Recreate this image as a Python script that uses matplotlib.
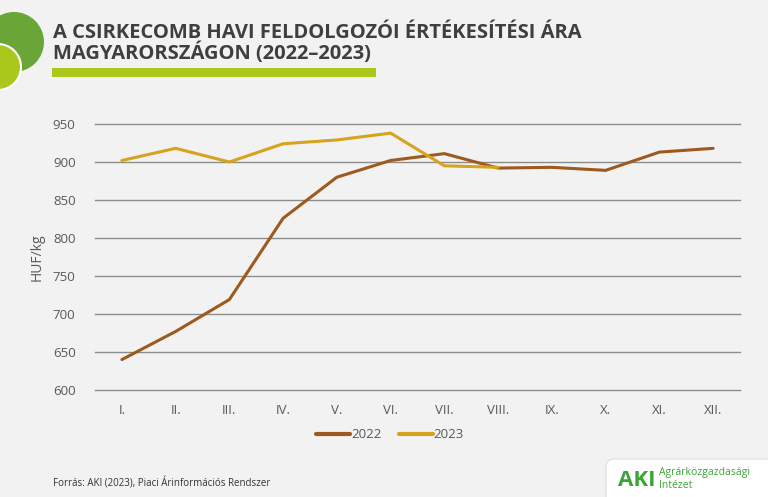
import matplotlib
matplotlib.use("Agg")
import matplotlib.pyplot as plt
from matplotlib.patches import Circle, FancyBboxPatch, Rectangle

months = ["I.", "II.", "III.", "IV.", "V.", "VI.", "VII.", "VIII.", "IX.", "X.", "XI.", "XII."]
price_2022 = [640, 677, 719, 826, 880, 902, 911, 892, 893, 889, 913, 918]
price_2023 = [902, 918, 900, 924, 929, 938, 895, 893]
yticks = [600, 650, 700, 750, 800, 850, 900, 950]

bg = "#f2f2f2"
brown = "#9c5a1f"
gold = "#d6a31d"
text_col = "#595959"

plt.rcParams["font.family"] = ["Open Sans", "DejaVu Sans"]

W, H = 768, 497
fig = plt.figure(figsize=(W / 100, H / 100), dpi=100, facecolor=bg)

# main chart
ax = fig.add_axes([95 / W, 1 - 390 / H, 645 / W, 266 / H])
ax.set_facecolor(bg)
ax.plot(range(len(price_2022)), price_2022, color=brown, lw=2.2, label="2022",
        solid_capstyle="round", zorder=3)
ax.plot(range(len(price_2023)), price_2023, color=gold, lw=2.2, label="2023",
        solid_capstyle="round", zorder=3)
ax.set_xlim(-0.5, 11.5)
ax.set_ylim(600, 950)
ax.set_yticks(yticks)
ax.set_xticks(range(12))
ax.set_xticklabels(months)
ax.grid(axis="y", color="#8c8c8c", lw=1)
for gl in ax.get_ygridlines():
    gl.set_clip_on(False)
ax.set_axisbelow(True)
for s in ax.spines.values():
    s.set_visible(False)
ax.tick_params(length=0, colors=text_col, labelsize=9.5)
ax.tick_params(axis="y", pad=14)
ax.tick_params(axis="x", pad=10)
ax.set_ylabel("HUF/kg", color=text_col, fontsize=10, labelpad=6)

leg = fig.legend(loc="center", bbox_to_anchor=(390 / W, 1 - 435 / H), ncol=2,
                 frameon=False, fontsize=9.5, handlelength=2.6, handletextpad=0.05,
                 columnspacing=1.3)
for t in leg.get_texts():
    t.set_color(text_col)
for l in leg.get_lines():
    l.set_linewidth(3)

# decorations in pixel space
deco = fig.add_axes([0, 0, 1, 1], zorder=-1)
deco.set_xlim(0, W)
deco.set_ylim(H, 0)
deco.axis("off")
deco.add_patch(Circle((14, 42), 30, color="#6aa538", lw=0))
deco.add_patch(Circle((-2, 67), 23, facecolor="#a9c81b", edgecolor="white", lw=1.5))
deco.add_patch(Rectangle((52, 68), 324, 9, color="#a9c81b", lw=0))

over = fig.add_axes([0, 0, 1, 1], zorder=5)
over.set_xlim(0, W)
over.set_ylim(H, 0)
over.axis("off")
over.patch.set_alpha(0)
over.text(53, 33, "A CSIRKECOMB HAVI FELDOLGOZÓI ÉRTÉKESÍTÉSI ÁRA", fontsize=14.5,
          fontweight="bold", color="#3f3f3f", va="center", ha="left")
over.text(53, 53, "MAGYARORSZÁGON (2022–2023)", fontsize=14.5,
          fontweight="bold", color="#3f3f3f", va="center", ha="left")
over.text(53, 484, "Forrás: AKI (2023), Piaci Árinformációs Rendszer", fontsize=7,
          color="#333333", va="center", ha="left")

# logo box
over.add_patch(FancyBboxPatch((606, 459), 170, 45, boxstyle="round,pad=0,rounding_size=8",
                              facecolor="white", edgecolor="#dddddd", lw=0.8))
over.text(618, 480, "AKI", fontsize=16, fontweight="bold", color="#3aa535",
          va="center", ha="left")
over.text(659, 472, "Agrárközgazdasági", fontsize=7.5, color="#3aa535",
          va="center", ha="left")
over.text(659, 486, "Intézet", fontsize=7.5, color="#3aa535", va="center", ha="left")

fig.savefig("out.png", dpi=100, facecolor=bg)
